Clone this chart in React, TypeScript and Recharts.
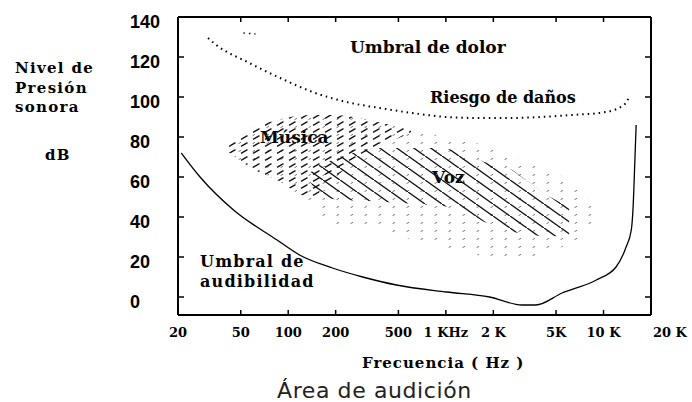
import { ComposedChart, Line, Area, XAxis, YAxis } from "recharts";

// eje de frecuencias (log) y niveles
const freqTicks = [20, 50, 100, 200, 500, 1000, 2000, 5000, 10000, 20000];
const freqLabels = ["20", "50", "100", "200", "500", "1 KHz", "2 K", "5K", "10 K", "20 K"];
const dbTicks = [0, 20, 40, 60, 80, 100, 120, 140];

// umbral de audibilidad (Hz, dB)
const audibilidad = [
  { f: 21, db: 72 }, { f: 27.6, db: 60 }, { f: 45, db: 43.5 }, { f: 85, db: 28.5 },
  { f: 118, db: 21 }, { f: 191, db: 14.5 }, { f: 297, db: 10 }, { f: 486, db: 6 },
  { f: 1010, db: 2.5 }, { f: 1890, db: 0 }, { f: 3040, db: -4 }, { f: 3720, db: -4 },
  { f: 5460, db: 2 }, { f: 9000, db: 8.5 }, { f: 12000, db: 15 }, { f: 13900, db: 25 },
  { f: 15000, db: 33.5 }, { f: 15400, db: 45 }, { f: 15800, db: 68 }, { f: 16100, db: 86 },
];

// riesgo de daños
const riesgo = [
  { f: 31, db: 129.5 }, { f: 35, db: 126 }, { f: 55, db: 117.5 }, { f: 89, db: 109.5 },
  { f: 143, db: 102.5 }, { f: 234, db: 97.5 }, { f: 380, db: 94.5 }, { f: 614, db: 92 },
  { f: 1010, db: 90 }, { f: 1630, db: 89.5 }, { f: 2420, db: 89.5 }, { f: 6320, db: 91 },
  { f: 10400, db: 92.5 }, { f: 13900, db: 97 }, { f: 14400, db: 99.5 },
];

// umbral de dolor (solo un trozo visible)
const dolor = [{ f: 52, db: 132 }, { f: 62, db: 131.5 }];

// zona de música [min, max]
const musica = [
  { f: 41, r: [73, 75] }, { f: 52, r: [67, 81] }, { f: 60, r: [64, 84.5] },
  { f: 85, r: [58.5, 88.5] }, { f: 137, r: [47, 91] }, { f: 175, r: [38.5, 91] },
  { f: 245, r: [35, 91] }, { f: 364, r: [35, 87.5] }, { f: 531, r: [30, 85] },
  { f: 1000, r: [25, 80] }, { f: 1560, r: [21, 77] }, { f: 2920, r: [18, 68.5] },
  { f: 5020, r: [24, 62] }, { f: 6700, r: [28, 55] }, { f: 7760, r: [32, 50] },
  { f: 9380, r: [40, 42] },
];

// parte oscura de música (arriba a la izquierda)
const musicaOscura = [
  { f: 41, r: [73, 75] }, { f: 60, r: [64, 84.5] }, { f: 85, r: [58.5, 88.5] },
  { f: 137, r: [50, 91] }, { f: 200, r: [60, 91] }, { f: 300, r: [72, 89] },
  { f: 450, r: [78, 86] }, { f: 600, r: [82, 84] },
];

// zona de voz [min, max]
const voz = [
  { f: 137, r: [58, 62] }, { f: 158, r: [50, 66] }, { f: 212, r: [48.5, 70] },
  { f: 328, r: [48, 74.5] }, { f: 822, r: [46, 74.5] }, { f: 1220, r: [44.5, 73.5] },
  { f: 1750, r: [37.5, 67.5] }, { f: 2180, r: [35, 66] }, { f: 2640, r: [32.5, 63.5] },
  { f: 4330, r: [30, 51] }, { f: 6050, r: [31, 45] },
];

const serif = "'DejaVu Serif', serif";
const sans = "'Liberation Sans', Arial, sans-serif";

const BottomTick = (props: any) => {
  const { x, y, payload } = props;
  const label = freqLabels[freqTicks.indexOf(payload.value)];
  const last = payload.value === 20000;
  return (
    <g>
      <line x1={x} y1={y} x2={x} y2={y - 5} stroke="#000" strokeWidth={1.5} />
      <text
        x={last ? x + 2 : x}
        y={y + 22}
        textAnchor={last ? "start" : "middle"}
        fontFamily={serif}
        fontWeight="bold"
        fontSize={13}
        fill="#000"
      >
        {label}
      </text>
    </g>
  );
};

const TopTick = (props: any) => {
  const { x, y } = props;
  return <line x1={x} y1={y} x2={x} y2={y + 5} stroke="#000" strokeWidth={1.5} />;
};

const LeftTick = (props: any) => {
  const { x, y, payload } = props;
  return (
    <g>
      <line x1={x} y1={y} x2={x + 6} y2={y} stroke="#000" strokeWidth={1.5} />
      <text x={x - 48} y={y + 10.5} textAnchor="start" fontFamily={sans} fontWeight="bold" fontSize={18} fill="#000">
        {payload.value}
      </text>
    </g>
  );
};

const RightTick = (props: any) => {
  const { x, y } = props;
  return <line x1={x} y1={y} x2={x - 6} y2={y} stroke="#000" strokeWidth={1.5} />;
};

const halo = { stroke: "#fff", strokeWidth: 4, paintOrder: "stroke" as const };

const axisStyle = { stroke: "#000", strokeWidth: 2 };

export default function App() {
  return (
    <div style={{ position: "absolute", left: 0, top: 0, width: 692, height: 402, background: "#fff" }}>
      <ComposedChart
        width={692}
        height={402}
        margin={{ top: 16, right: 40, bottom: 86, left: 177 }}
      >
        <defs>
          <pattern id="patVoz" patternUnits="userSpaceOnUse" width="17" height="12">
            <path d="M-2,-1.4 L19,13.4" stroke="#111" strokeWidth="1.4" />
          </pattern>
          <pattern id="patMusicaOscura" patternUnits="userSpaceOnUse" width="12" height="7">
            <path d="M1,6.4 L7.5,2.6" stroke="#111" strokeWidth="1.3" />
          </pattern>
          <pattern id="patMusica" patternUnits="userSpaceOnUse" width="14" height="8">
            <path d="M0.5,7.7 L3,6.3" stroke="#777" strokeWidth="1" />
          </pattern>
        </defs>

        <XAxis
          dataKey="f"
          type="number"
          scale="log"
          domain={[20, 20000]}
          ticks={freqTicks}
          allowDataOverflow
          height={1}
          tickSize={0}
          tickMargin={0}
          tickLine={false}
          interval={0}
          axisLine={axisStyle}
          tick={<BottomTick />}
        />
        <XAxis
          xAxisId="t"
          orientation="top"
          dataKey="f"
          type="number"
          scale="log"
          domain={[20, 20000]}
          ticks={freqTicks}
          allowDataOverflow
          height={1}
          tickSize={0}
          tickMargin={0}
          tickLine={false}
          interval={0}
          axisLine={axisStyle}
          tick={<TopTick />}
        />
        <YAxis
          type="number"
          domain={[-9, 140]}
          ticks={dbTicks}
          allowDataOverflow
          width={1}
          tickSize={0}
          tickMargin={0}
          tickLine={false}
          interval={0}
          axisLine={axisStyle}
          tick={<LeftTick />}
        />
        <YAxis
          yAxisId="r"
          orientation="right"
          type="number"
          domain={[-9, 140]}
          ticks={dbTicks}
          allowDataOverflow
          width={1}
          tickSize={0}
          tickMargin={0}
          tickLine={false}
          interval={0}
          axisLine={axisStyle}
          tick={<RightTick />}
        />

        <Area
          data={musica}
          dataKey="r"
          type="monotone"
          stroke="none"
          fill="url(#patMusica)"
          fillOpacity={1}
          isAnimationActive={false}
        />
        <Area
          data={musicaOscura}
          dataKey="r"
          type="monotone"
          stroke="none"
          fill="url(#patMusicaOscura)"
          fillOpacity={1}
          isAnimationActive={false}
        />
        <Area
          data={voz}
          dataKey="r"
          type="linear"
          stroke="none"
          fill="url(#patVoz)"
          fillOpacity={1}
          isAnimationActive={false}
        />

        <Line
          data={audibilidad}
          dataKey="db"
          type="monotone"
          stroke="#000"
          strokeWidth={1.3}
          dot={false}
          isAnimationActive={false}
        />
        <Line
          data={riesgo}
          dataKey="db"
          type="monotone"
          stroke="#000"
          strokeWidth={2}
          strokeDasharray="1.5 4"
          dot={false}
          isAnimationActive={false}
        />
        <Line
          data={dolor}
          dataKey="db"
          type="linear"
          stroke="#000"
          strokeWidth={1.5}
          strokeDasharray="1.5 4"
          dot={false}
          isAnimationActive={false}
        />

        <g fontFamily={serif} fontWeight="bold" fill="#000">
          <text x={15} y={73} fontSize={15} letterSpacing={1.3}>Nivel de</text>
          <text x={15} y={93} fontSize={15} letterSpacing={1.3}>Presión</text>
          <text x={15} y={112} fontSize={15} letterSpacing={1.3}>sonora</text>
          <text x={45} y={160} fontSize={15} letterSpacing={1.3}>dB</text>
          <text x={350} y={53} fontSize={17}>Umbral de dolor</text>
          <text x={430} y={103} fontSize={16}>Riesgo de daños</text>
          <text x={260} y={143} fontSize={17} {...halo}>Música</text>
          <text x={432} y={183} fontSize={17} {...halo}>Voz</text>
          <text x={200} y={267} fontSize={16} letterSpacing={1.2}>Umbral de</text>
          <text x={200} y={287} fontSize={16} letterSpacing={1.2}>audibilidad</text>
          <text x={362} y={368} fontSize={15} letterSpacing={1}>Frecuencia ( Hz )</text>
        </g>
        <text x={277} y={398} fontFamily="'DejaVu Sans', sans-serif" fontSize={22} letterSpacing={0.6} fill="#222">
          Área de audición
        </text>
      </ComposedChart>
    </div>
  );
}
